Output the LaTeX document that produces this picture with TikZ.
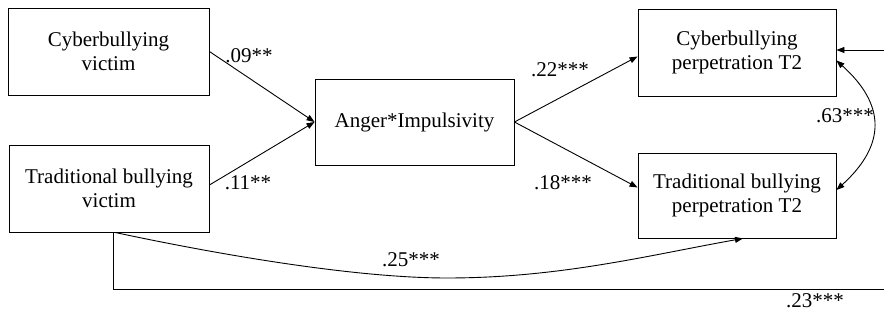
\documentclass[tikz,border=0pt]{standalone}
\usepackage{fontspec}
\setmainfont{Liberation Serif}
\usetikzlibrary{arrows.meta}
\begin{document}
\begin{tikzpicture}[x=1pt,y=-1pt,
  box/.style={draw, line width=0.9pt, inner sep=0pt, align=center,
    font=\fontsize{21}{23.5}\selectfont},
  lbl/.style={font=\fontsize{21}{23.5}\selectfont, inner sep=0pt, anchor=base},
  conn/.style={line width=0.9pt, -{Triangle[length=8pt,width=6pt]}},
  biconn/.style={line width=0.9pt, {Triangle[length=8pt,width=6pt]}-{Triangle[length=8pt,width=6pt]}},
  plain/.style={line width=0.9pt},
]
\useasboundingbox (0,0) rectangle (884,320);

\node[box, minimum width=201pt, minimum height=87pt] (CV) at (108.5,51.5) {Cyberbullying\\victim};
\node[box, minimum width=200pt, minimum height=87pt] (TV) at (109,188.5) {Traditional bullying\\victim};
\node[box, minimum width=199pt, minimum height=86pt] (AI) at (414.5,122) {Anger*Impulsivity};
\node[box, minimum width=198pt, minimum height=87pt] (CP) at (737,52.5) {Cyberbullying\\perpetration T2};
\node[box, minimum width=198pt, minimum height=85pt] (TP) at (737,195.5) {Traditional bullying\\perpetration T2};

\coordinate (rin) at (884,50);
\coordinate (rbot) at (884,289);

\draw[conn] (CV.east) -- (AI.west);
\draw[conn] ([yshift=3.5pt]TV.east) -- (AI.west);
\draw[conn] (AI.east) -- ([yshift=-4pt]CP.west);
\draw[conn] (AI.east) -- ([yshift=8pt]TP.west);
\draw[conn] (rin) -- ([yshift=2.5pt]CP.east);
\draw[plain] ([xshift=4pt]TV.south) |- (rbot);
\draw[conn] ([xshift=6pt]TV.south) .. controls (230,257) and (360,278) .. (447,278)
  .. controls (560,278) and (650,255) .. ([xshift=6pt]TP.south);
\draw[biconn] ([yshift=-8pt]CP.east) .. controls (886,105) and (886,145) .. ([yshift=5.5pt]TP.east);

\node[lbl] (l09) at (249,63) {.09**};
\node[lbl] (l11) at (248,190) {.11**};
\node[lbl] (l22) at (560,77) {.22***};
\node[lbl] (l18) at (563,190) {.18***};
\node[lbl] (l25) at (411,267) {.25***};
\node[lbl] (l63) at (845,123) {.63***};
\node[lbl] (l23) at (815,308) {.23***};
\end{tikzpicture}
\end{document}
